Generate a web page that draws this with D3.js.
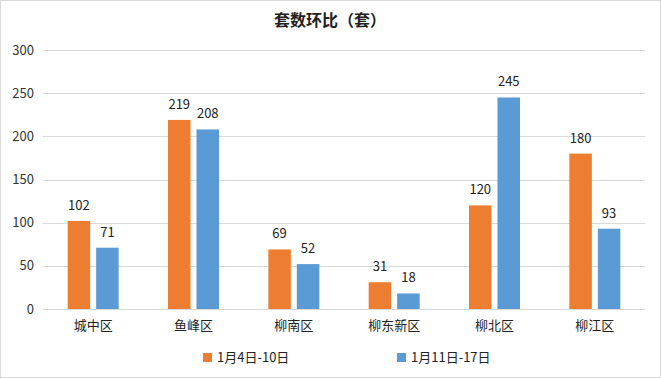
<!DOCTYPE html>
<html>
<head>
<meta charset="utf-8">
<script src="https://cdn.jsdelivr.net/npm/d3@7"></script>
<style>
body { margin: 0; background: #fff; }
text { font-family: "Noto Sans CJK SC", "Liberation Sans", sans-serif; }
</style>
</head>
<body>
<div id="chart"></div>
<script>
var categories = ["城中区", "鱼峰区", "柳南区", "柳东新区", "柳北区", "柳江区"]
var series_names = ["1月4日-10日", "1月11日-17日"]
var week1 = [102, 219, 69, 31, 120, 180]
var week2 = [71, 208, 52, 18, 245, 93]
var y_ticks = [0, 50, 100, 150, 200, 250, 300]
var colors = ["#ED7D31", "#5B9BD5"]

var width = 661
var height = 379
// plot area bounds (don't use "top" - clashes with window.top)
var plot_left = 43, plot_right = 645, plot_top = 50, plot_bottom = 309

var svg = d3.select("#chart")
	.append("svg")
	.attr("width", width)
	.attr("height", height)

// outer frame
svg.append("rect")
	.attr("x", 0.5).attr("y", 0.5)
	.attr("width", width - 1).attr("height", height - 2)
	.attr("fill", "#fff")
	.attr("stroke", "#d9d9d9")

svg.append("text")
	.attr("x", 330).attr("y", 26)
	.attr("text-anchor", "middle")
	.attr("font-size", 16)
	.attr("font-weight", "bold")
	.attr("fill", "#222")
	.text("套数环比（套）")

var y = d3.scaleLinear().domain([0, 300]).range([plot_bottom, plot_top])
var x0 = d3.scaleBand().domain(categories).range([plot_left, plot_right])
var bw = x0.bandwidth()
var x1 = d3.scaleBand().domain([0, 1]).range([bw / 2 - 25.5, bw / 2 + 25.5]).paddingInner(0.21)

// gridlines
svg.append("g")
	.selectAll("line")
	.data(y_ticks)
	.enter().append("line")
	.attr("x1", plot_left).attr("x2", plot_right)
	.attr("y1", function(d) { return Math.round(y(d)) + 0.5 })
	.attr("y2", function(d) { return Math.round(y(d)) + 0.5 })
	.attr("stroke", "#d9d9d9")

// y tick labels
svg.append("g")
	.selectAll("text")
	.data(y_ticks)
	.enter().append("text")
	.attr("x", 34)
	.attr("y", function(d) { return y(d) + 4.5 })
	.attr("text-anchor", "end")
	.attr("font-size", 13)
	.attr("fill", "#333")
	.text(function(d) { return d })

var all_series = [week1, week2]

var groups = svg.append("g")
	.selectAll("g")
	.data(categories)
	.enter().append("g")
	.attr("transform", function(d) { return "translate(" + x0(d) + ",0)" })

groups.selectAll("rect")
	.data(function(d, i) { return [0, 1].map(function(s) { return {s: s, v: all_series[s][i]} }) })
	.enter().append("rect")
	.attr("x", function(d) { return x1(d.s) })
	.attr("width", x1.bandwidth())
	.attr("y", function(d) { return y(d.v) })
	.attr("height", function(d) { return plot_bottom - y(d.v) })
	.attr("fill", function(d) { return colors[d.s] })

groups.selectAll("text.val")
	.data(function(d, i) { return [0, 1].map(function(s) { return {s: s, v: all_series[s][i]} }) })
	.enter().append("text")
	.attr("class", "val")
	.attr("x", function(d) { return x1(d.s) + x1.bandwidth() / 2 })
	.attr("y", function(d) { return y(d.v) - 11 })
	.attr("text-anchor", "middle")
	.attr("font-size", 13)
	.attr("fill", "#222")
	.text(function(d) { return d.v })

// category labels
groups.append("text")
	.attr("x", bw / 2)
	.attr("y", 330)
	.attr("text-anchor", "middle")
	.attr("font-size", 13)
	.attr("fill", "#222")
	.text(function(d) { return d })

// legend
var legend_x = [203, 397]
var legend = svg.append("g")
	.selectAll("g")
	.data(series_names)
	.enter().append("g")
	.attr("transform", function(d, i) { return "translate(" + legend_x[i] + ",353)" })
legend.append("rect")
	.attr("width", 9).attr("height", 9)
	.attr("fill", function(d, i) { return colors[i] })
legend.append("text")
	.attr("x", 14).attr("y", 9)
	.attr("font-size", 13)
	.attr("fill", "#222")
	.text(function(d) { return d })
</script>
</body>
</html>
